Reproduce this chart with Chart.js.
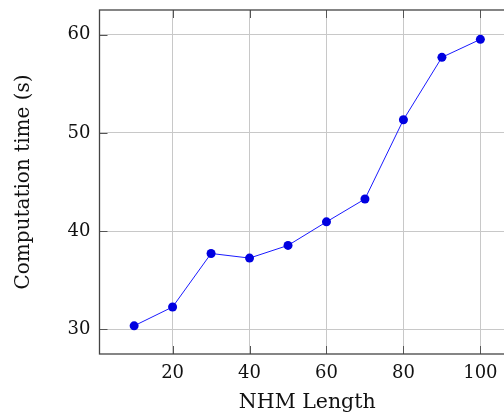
<!DOCTYPE html>
<html>
<head>
<meta charset="utf-8">
<script src="https://cdn.jsdelivr.net/npm/chart.js@4"></script>
<style>
    html, body { margin: 0; padding: 0; background: #fff; overflow: hidden; }
    #wrap { width: 504px; height: 420px; overflow: hidden; }
    #box { width: 520px; height: 420px; }
</style>
</head>
<body>
<div id="wrap"><div id="box"><canvas id="chart"></canvas></div></div>
<script>
// NHM length vs computation time
const lengths = [10, 20, 30, 40, 50, 60, 70, 80, 90, 100];
const times = [30.35, 32.27, 37.72, 37.25, 38.54, 40.94, 43.27, 51.34, 57.70, 59.53];
const xTicks = [20, 40, 60, 80, 100];
const yTicks = [30, 40, 50, 60];

const serif = "'DejaVu Serif', 'Liberation Serif', serif";

// pgfplots style inward tick marks on all four sides
const innerTicks = {
    id: 'innerTicks',
    afterDatasetsDraw(chart) {
        const { ctx, chartArea: a, scales } = chart;
        const len = 8;
        ctx.save();
        ctx.strokeStyle = '#555';
        ctx.lineWidth = 1;
        ctx.beginPath();
        scales.x.ticks.forEach(t => {
            const px = Math.round(scales.x.getPixelForValue(t.value)) + 0.5;
            ctx.moveTo(px, a.bottom); ctx.lineTo(px, a.bottom - len);
            ctx.moveTo(px, a.top); ctx.lineTo(px, a.top + len);
        });
        scales.y.ticks.forEach(t => {
            const py = Math.round(scales.y.getPixelForValue(t.value)) + 0.5;
            ctx.moveTo(a.left, py); ctx.lineTo(a.left + len, py);
            ctx.moveTo(a.right, py); ctx.lineTo(a.right - len, py);
        });
        ctx.stroke();
        ctx.strokeStyle = '#444';
        ctx.lineWidth = 1.3;
        ctx.strokeRect(a.left, a.top, a.right - a.left, a.bottom - a.top);
        ctx.restore();
    }
};

new Chart(document.getElementById('chart'), {
    type: 'line',
    data: {
        datasets: [{
            data: lengths.map((x, i) => ({ x: x, y: times[i] })),
            borderColor: '#1a1aff',
            borderWidth: 1,
            backgroundColor: '#0000e0',
            pointBackgroundColor: '#0000e0',
            pointBorderColor: '#0000e0',
            pointRadius: 4.5,
            pointBorderWidth: 0,
            tension: 0,
            clip: false
        }]
    },
    options: {
        responsive: true,
        maintainAspectRatio: false,
        animation: false,
        layout: { padding: { top: 10, right: 5, left: 0, bottom: 0 } },
        plugins: { legend: { display: false }, tooltip: { enabled: false } },
        scales: {
            x: {
                type: 'linear',
                min: 1,
                max: 109,
                afterBuildTicks: scale => { scale.ticks = xTicks.map(v => ({ value: v })); },
                afterFit: scale => { scale.height = 66; scale.paddingLeft = 0; scale.paddingRight = 0; },
                grid: { color: '#c8c8c8', lineWidth: 1, drawTicks: false },
                border: { display: false },
                ticks: {
                    padding: 9,
                    color: '#111',
                    font: { family: serif, size: 18 },
                    maxRotation: 0
                },
                title: {
                    display: true,
                    text: 'NHM Length',
                    color: '#111',
                    font: { family: serif, size: 20.5 },
                    padding: { top: 0, bottom: 5 }
                }
            },
            y: {
                type: 'linear',
                min: 27.48,
                max: 62.52,
                afterBuildTicks: scale => { scale.ticks = yTicks.map(v => ({ value: v })); },
                afterFit: scale => { scale.width = 99.5; scale.paddingTop = 0; scale.paddingBottom = 0; },
                grid: { color: '#c8c8c8', lineWidth: 1, drawTicks: false },
                border: { display: false },
                ticks: {
                    padding: 9,
                    color: '#111',
                    font: { family: serif, size: 18 }
                },
                title: {
                    display: true,
                    text: 'Computation time (s)',
                    color: '#111',
                    font: { family: serif, size: 20 },
                    padding: { top: 12, bottom: 0 }
                }
            }
        }
    },
    plugins: [innerTicks]
});
</script>
</body>
</html>
